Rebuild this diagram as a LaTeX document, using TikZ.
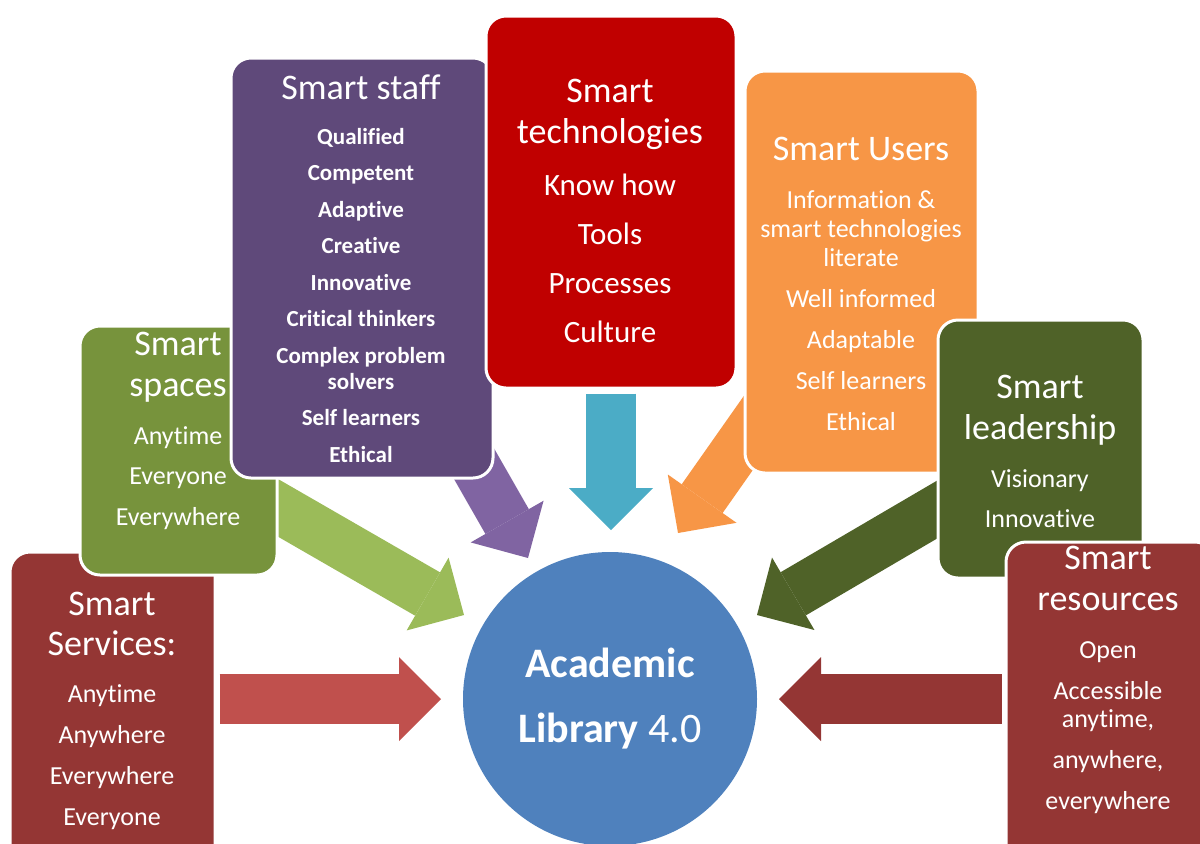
\documentclass[tikz,border=0pt]{standalone}
\usepackage{fontspec}
\setmainfont{Carlito}[Ligatures=NoCommon]
\usetikzlibrary{arrows.meta,backgrounds}
\definecolor{svcred}{HTML}{943634}
\definecolor{arrred}{HTML}{C0504D}
\definecolor{spcgreen}{HTML}{77933C}
\definecolor{arrgreen}{HTML}{9BBB59}
\definecolor{stfpurple}{HTML}{5F497A}
\definecolor{arrpurple}{HTML}{8064A2}
\definecolor{tecred}{HTML}{C00000}
\definecolor{arrblue}{HTML}{4BACC6}
\definecolor{usrorange}{HTML}{F79646}
\definecolor{ldrgreen}{HTML}{4F6228}
\definecolor{libblue}{HTML}{4F81BD}
\newcommand{\ttlsz}{\fontsize{18}{20.5}\selectfont}
\tikzset{
        box/.style={draw=white,line width=1.5pt,rounded corners=10pt,inner sep=0pt},
        txt/.style={text=white,anchor=north,inner sep=0pt,align=center},
        bigarrow/.style={line width=25pt,-{Triangle[length=21pt,width=42pt,line width=0pt]}}
}

\begin{document}
\begin{tikzpicture}[x=0.5pt,y=-0.5pt]
        \useasboundingbox (0,0) rectangle (1200,843);
        \clip (0,0) rectangle (1200,843);

        \coordinate (tipL) at (441,699);
        \coordinate (tipR) at (779,699);
        \coordinate (tipG) at (464,615);
        \coordinate (tipP) at (528,558);
        \coordinate (tipB) at (611,530);
        \coordinate (tipO) at (678,533);
        \coordinate (tipK) at (757,615);

        \node[box,fill=svcred,minimum width=102.5pt,minimum height=159pt] (svc) at (112.5,711) {};
        \node[txt,font=\fontsize{13}{20.5}\selectfont] (svc-t) at (112,591.5)
                {{\ttlsz Smart}\\[-0.5pt]{\ttlsz Services:}\\[2.9pt]Anytime\\Anywhere\\Everywhere\\Everyone};

        \node[box,fill=spcgreen,minimum width=98.5pt,minimum height=124.5pt] (spc) at (178.5,450.5) {};
        \node[txt,font=\fontsize{13}{20.25}\selectfont] (spc-t) at (178,331.5)
                {{\ttlsz Smart}\\[0.25pt]{\ttlsz spaces}\\[3.65pt]Anytime\\Everyone\\Everywhere};

        \node[box,fill=stfpurple,minimum width=131pt,minimum height=210pt] (stf) at (362,268) {};
        \node[txt,font=\bfseries\fontsize{11.5}{18.25}\selectfont] (stf-t) at (361,74.5)
                {{\ttlsz\mdseries Smart staff}\\[4.2pt]Qualified\\Competent\\Adaptive\\Creative\\Innovative\\Critical thinkers\\Complex problem\\[-5.25pt]solvers\\Self learners\\Ethical};

        \node[box,fill=tecred,minimum width=125pt,minimum height=186pt] (tec) at (611,202) {};
        \node[txt,font=\fontsize{15.5}{24.5}\selectfont] (tec-t) at (610,78.5)
                {{\ttlsz Smart}\\[-4pt]{\ttlsz technologies}\\[1.7pt]Know how\\Tools\\Processes\\Culture};

        \node[box,fill=usrorange,minimum width=116.5pt,minimum height=201pt] (usr) at (861.5,272) {};
        \node[txt,font=\fontsize{13}{20.5}\selectfont] (usr-t) at (861,136.5)
                {{\ttlsz Smart Users}\\[3.4pt]Information \&\\[-6pt]smart technologies\\[-6pt]literate\\Well informed\\Adaptable\\Self learners\\Ethical};

        \node[box,fill=ldrgreen,minimum width=102.5pt,minimum height=129pt] (ldr) at (1040.5,449) {};
        \node[txt,font=\fontsize{13}{20}\selectfont] (ldr-t) at (1040,374.5)
                {{\ttlsz Smart}\\[0.5pt]{\ttlsz leadership}\\[3.9pt]Visionary\\Innovative};

        \node[box,fill=svcred,minimum width=104.5pt,minimum height=164pt] (res) at (1110.5,706) {};
        \node[txt,font=\fontsize{13}{20.5}\selectfont] (res-t) at (1108,545.5)
                {{\ttlsz Smart}\\{\ttlsz resources}\\[3.4pt]Open\\Accessible\\[-6.5pt]anytime,\\anywhere,\\everywhere};

        \node[circle,fill=libblue,minimum size=147pt,inner sep=0pt,text=white,align=center,
                font=\fontsize{21}{32.5}\selectfont] (lib) at (610,699) {\textbf{Academic}\\\textbf{Library} 4.0};

        \begin{pgfonlayer}{background}
                \draw[bigarrow,arrred,shorten <=1.5pt] (svc.east |- tipL) -- (tipL);
                \draw[bigarrow,svcred,shorten <=1.5pt] (res.west |- tipR) -- (tipR);
                \draw[bigarrow,arrgreen] (spc.center) -- (tipG);
                \draw[bigarrow,arrpurple] (stf.center) -- (tipP);
                \draw[bigarrow,arrblue,shorten <=2pt] (tec.south) -- (tipB);
                \draw[bigarrow,usrorange] (usr.center) -- (tipO);
                \draw[bigarrow,ldrgreen] (ldr.center) -- (tipK);
        \end{pgfonlayer}
\end{tikzpicture}
\end{document}
